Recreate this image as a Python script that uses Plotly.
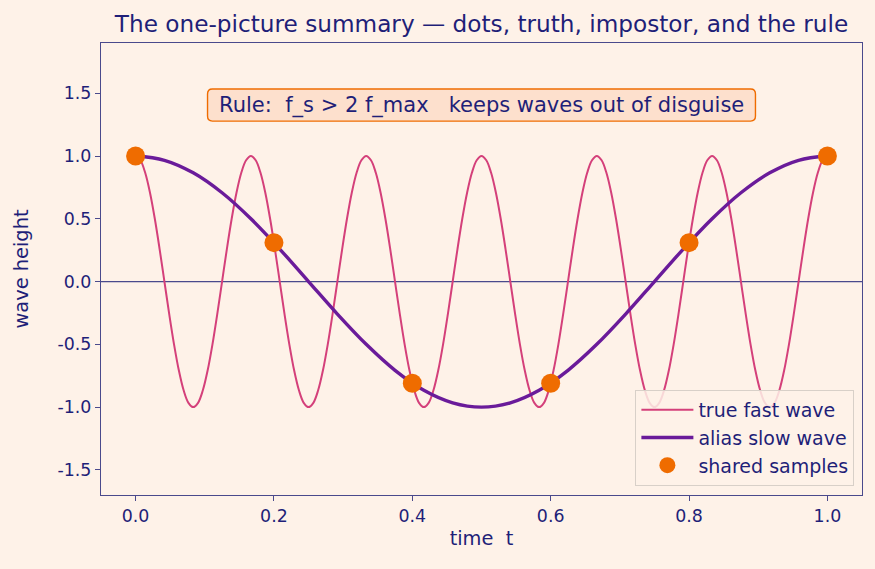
import plotly.graph_objects as go

# one cycle of a cosine read at 15-degree steps
cycle_vals = [1, 0.966, 0.866, 0.707, 0.5, 0.259, 0, -0.259, -0.5, -0.707, -0.866, -0.966,
              -1, -0.966, -0.866, -0.707, -0.5, -0.259, 0, 0.259, 0.5, 0.707, 0.866, 0.966]

fast_t = [i / 144 for i in range(145)]
fast_y = cycle_vals * 6 + [1]

slow_t = [i / 24 for i in range(25)]
slow_y = cycle_vals + [1]

sample_t = [0.0, 0.2, 0.4, 0.6, 0.8, 1.0]
sample_y = [1.0, 0.31, -0.81, -0.81, 0.31, 1.0]

x_ticks = [0.0, 0.2, 0.4, 0.6, 0.8, 1.0]
y_ticks = [-1.5, -1.0, -0.5, 0.0, 0.5, 1.0, 1.5]

NAVY = "#1f1f78"
SPINE = "#4a4a8c"
BG = "#fef2e8"
FONT = "DejaVu Sans"

fig = go.Figure()
fig.add_trace(go.Scatter(x=fast_t, y=fast_y, mode="lines", name="true fast wave",
                         line=dict(color="#d4407a", width=2, shape="spline", smoothing=1.0)))
fig.add_trace(go.Scatter(x=slow_t, y=slow_y, mode="lines", name="alias slow wave",
                         line=dict(color="#6a1b9a", width=3.4, shape="spline", smoothing=1.0)))
fig.add_trace(go.Scatter(x=sample_t, y=sample_y, mode="markers", name="shared samples",
                         marker=dict(color="#ef6c00", size=19)))

fig.add_shape(type="line", xref="paper", x0=0, x1=1, yref="y", y0=0, y1=0,
              line=dict(color=SPINE, width=1.2), layer="below")

# rounded box behind the rule text
bx0, bx1, by0, by1, rx, ry = 0.104, 0.896, 1.278, 1.534, 0.007, 0.04
box_path = (f"M {bx0+rx},{by0} L {bx1-rx},{by0} Q {bx1},{by0} {bx1},{by0+ry} "
            f"L {bx1},{by1-ry} Q {bx1},{by1} {bx1-rx},{by1} L {bx0+rx},{by1} "
            f"Q {bx0},{by1} {bx0},{by1-ry} L {bx0},{by0+ry} Q {bx0},{by0} {bx0+rx},{by0} Z")
fig.add_shape(type="path", xref="x", yref="y", path=box_path,
              fillcolor="#fde0cd", line=dict(color="#ef6c00", width=1.4), layer="above")

fig.add_annotation(xref="x", yref="y", x=0.5, y=1.406,
                   text="Rule:  f_s > 2 f_max   keeps waves out of disguise",
                   showarrow=False, font=dict(family=FONT, size=21, color=NAVY))

fig.update_layout(
    width=875, height=569,
    paper_bgcolor=BG, plot_bgcolor=BG,
    margin=dict(l=101, r=13, t=43, b=74),
    font=dict(family=FONT, size=17.4, color=NAVY),
    title=dict(text="The one-picture summary — dots, truth, impostor, and the rule",
               xref="paper", x=0.5, xanchor="center", y=0.958, yanchor="middle",
               font=dict(family=FONT, size=23.2, color=NAVY)),
    showlegend=True,
    legend=dict(x=0.99, y=0.02, xanchor="right", yanchor="bottom",
                bgcolor="rgba(254,242,232,0.85)", bordercolor="#d8d0c8", borderwidth=1,
                font=dict(family=FONT, size=19, color=NAVY), itemwidth=52,
                tracegroupgap=0),
    xaxis=dict(range=[-0.05, 1.05], tickvals=x_ticks, ticktext=[f"{v:.1f}" for v in x_ticks],
               showgrid=False, zeroline=False, showline=True, linecolor=SPINE, linewidth=1.3,
               mirror=True, ticks="outside", ticklen=5, tickcolor=SPINE,
               title=dict(text="time  t", font=dict(size=19.4, color=NAVY), standoff=6),
               tickfont=dict(size=17.4, color=NAVY)),
    yaxis=dict(range=[-1.7, 1.9], tickvals=y_ticks, ticktext=[f"{v:.1f}" for v in y_ticks],
               showgrid=False, zeroline=False, showline=True, linecolor=SPINE, linewidth=1.3,
               mirror=True, ticks="outside", ticklen=5, tickcolor=SPINE,
               title=dict(text="wave height", font=dict(size=19.4, color=NAVY), standoff=23),
               tickfont=dict(size=17.4, color=NAVY)),
)

fig.write_html("out.html")
